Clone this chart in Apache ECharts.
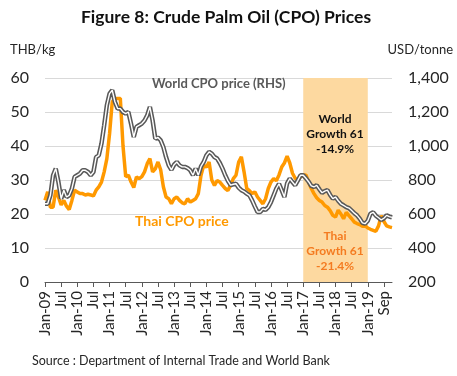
<!DOCTYPE html>
<html>
<head>
<meta charset="utf-8">
<script src="https://cdn.jsdelivr.net/npm/echarts@6/dist/echarts.min.js"></script>
<style>
html,body{margin:0;padding:0;background:#fff;}
#chart{width:457px;height:376px;}
</style>
</head>
<body>
<div id="chart"></div>
<script>
// Monthly Thai CPO price (THB/kg), Jan-09 .. Oct-19
const thaiPrice = [
 24.0,26.5,22.0,22.0,27.0,25.0,22.7,24.0,22.3,21.3,24.0,27.0,
 26.5,26.0,26.0,25.6,25.8,25.6,25.3,27.0,28.0,29.4,32.4,36.3,
 43.6,53.0,54.0,54.0,54.0,40.0,31.0,31.4,29.4,27.8,30.9,30.4,
 31.0,32.4,34.8,36.3,32.4,33.3,35.3,33.0,28.0,25.0,24.5,23.0,
 24.5,25.0,24.0,23.3,23.0,24.5,23.5,24.0,24.5,26.0,31.4,34.3,
 33.8,35.3,30.0,28.4,29.8,29.4,28.4,27.5,26.9,28.5,30.4,31.4,
 35.3,36.8,32.4,27.5,26.9,26.0,26.5,25.0,24.0,23.0,24.5,27.5,
 29.4,30.4,29.8,31.5,33.8,35.0,37.0,35.0,32.0,30.5,30.0,30.9,
 31.4,31.5,29.4,27.5,26.0,24.8,24.0,23.5,22.5,22.0,21.0,19.6,
 19.1,21.1,20.0,18.6,20.5,19.5,18.6,17.6,17.2,16.9,16.4,16.5,
 15.9,15.5,15.2,14.9,16.5,19.5,17.8,16.5,16.2,16.0
];
// Monthly world CPO price (USD/tonne), Jan-09 .. Oct-19
const worldPrice = [
 660,660,710,828,867,788,690,740,700,710,750,818,
 828,838,857,857,847,828,847,935,945,1014,1122,1240,
 1308,1328,1259,1220,1220,1200,1190,1200,1130,1053,1112,1122,
 1132,1150,1180,1230,1151,1043,1050,1033,994,935,886,860,
 890,906,886,877,877,870,857,828,867,828,880,906,
 945,965,955,935,926,900,867,828,795,770,775,778,
 755,740,732,720,710,680,645,612,612,630,625,640,
 670,710,750,778,740,700,780,808,788,769,798,828,
 828,810,790,765,759,769,745,725,735,740,712,690,
 700,678,660,651,641,635,620,605,592,573,548,543,
 560,602,610,590,578,565,575,592,585,580
];
const tickLabels = ['Jan-09','Jul','Jan-10','Jul','Jan-11','Jul','Jan-12','Jul','Jan-13','Jul',
 'Jan-14','Jul','Jan-15','Jul','Jan-16','Jul','Jan-17','Jul','Jan-18','Jul','Jan-19','Sep'];
const shadeStart = '2017-01';
const shadeEnd = '2019-01';

const categories = [];
for (let y = 2009; categories.length < thaiPrice.length; y++) {
  for (let m = 1; m <= 12 && categories.length < thaiPrice.length; m++) {
    categories.push(y + '-' + (m < 10 ? '0' + m : m));
  }
}

const FONT = 'Lato';
const chart = echarts.init(document.getElementById('chart'), null, {renderer: 'canvas'});
const everySix = (i) => i % 6 === 0;

chart.setOption({
  animation: false,
  textStyle: {fontFamily: FONT},
  grid: {left: 45, right: 65, top: 78, bottom: 94},
  xAxis: {
    type: 'category',
    data: categories,
    boundaryGap: false,
    axisLine: {lineStyle: {color: '#595959', width: 1}},
    axisTick: {show: true, interval: everySix, length: 5, lineStyle: {color: '#595959'}},
    axisLabel: {
      interval: everySix,
      rotate: 90,
      margin: 9,
      fontSize: 15,
      color: '#262626',
      fontFamily: FONT,
      formatter: (v, i) => tickLabels[i / 6] || ''
    },
    splitLine: {show: false}
  },
  yAxis: [
    {
      type: 'value', min: 0, max: 60, interval: 10,
      axisLine: {show: false}, axisTick: {show: false},
      axisLabel: {fontSize: 16, color: '#262626', margin: 16, fontFamily: FONT},
      splitLine: {lineStyle: {color: '#D9D9D9', width: 1}}
    },
    {
      type: 'value', min: 200, max: 1400, interval: 200,
      axisLine: {show: false}, axisTick: {show: false},
      axisLabel: {fontSize: 16, color: '#262626', margin: 16, fontFamily: FONT,
        formatter: (v) => v.toLocaleString('en-US')},
      splitLine: {show: false}
    }
  ],
  series: [
    {
      name: 'Thai CPO price', type: 'line', yAxisIndex: 0,
      data: thaiPrice, symbol: 'none', z: 2,
      lineStyle: {color: '#FF9900', width: 3.5},
      markArea: {
        silent: true,
        itemStyle: {color: '#FDD9A0'},
        data: [[{xAxis: shadeStart, yAxis: 60.5}, {xAxis: shadeEnd, yAxis: 0}]]
      }
    },
    {
      name: 'World CPO price', type: 'line', yAxisIndex: 1,
      data: worldPrice, symbol: 'none', z: 3,
      lineStyle: {color: '#595959', width: 4.5}
    },
    {
      name: 'World CPO price inner', type: 'line', yAxisIndex: 1,
      data: worldPrice, symbol: 'none', z: 4,
      lineStyle: {color: '#FFFFFF', width: 1.4}
    }
  ],
  graphic: [
    {type: 'text', x: 226, y: 8, style: {text: 'Figure 8: Crude Palm Oil (CPO) Prices', font: 'bold 17.5px ' + FONT, fill: '#111111', align: 'center'}},
    {type: 'text', x: 10, y: 43, style: {text: 'THB/kg', font: '13px ' + FONT, fill: '#262626'}},
    {type: 'text', x: 453, y: 43, style: {text: 'USD/tonne', font: '13px ' + FONT, fill: '#262626', align: 'right'}},
    {type: 'text', x: 152, y: 77, z: 10, style: {text: 'World CPO price (RHS)', font: 'bold 13px ' + FONT, fill: '#595959'}},
    {type: 'text', x: 135, y: 214, z: 10, style: {text: 'Thai CPO price', font: 'bold 14px ' + FONT, fill: '#FF9900'}},
    {type: 'text', x: 335, y: 112, z: 10, style: {text: 'World\nGrowth 61\n-14.9%', font: 'bold 12px ' + FONT, fill: '#111111', align: 'center', lineHeight: 15}},
    {type: 'text', x: 335, y: 229, z: 10, style: {text: 'Thai\nGrowth 61\n-21.4%', font: 'bold 12px ' + FONT, fill: '#F47B20', align: 'center', lineHeight: 15}},
    {type: 'text', x: 32, y: 354, style: {text: 'Source : Department of Internal Trade and World Bank', font: '12.5px ' + FONT, fill: '#262626'}}
  ]
});
</script>
</body>
</html>
